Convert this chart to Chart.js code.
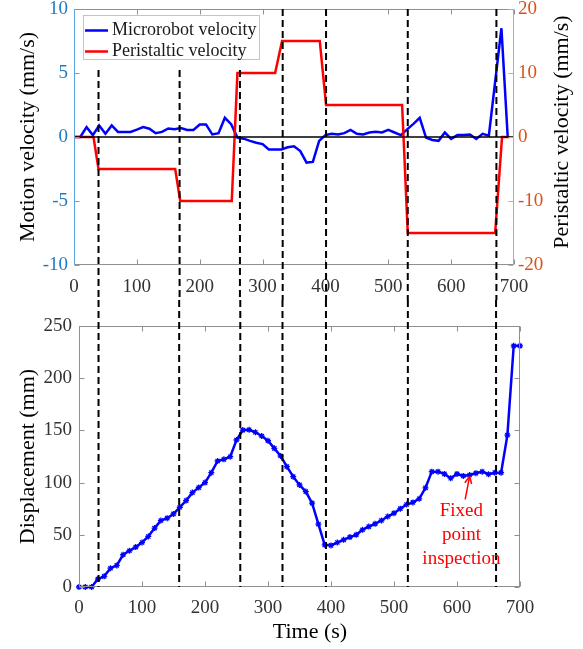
<!DOCTYPE html>
<html><head><meta charset="utf-8">
<script src="https://cdn.jsdelivr.net/npm/chart.js@4"></script>
<style>
html,body{margin:0;padding:0;background:#fff;}
#wrap{position:relative;width:583px;height:649px;overflow:hidden;}
canvas{position:absolute;left:0;}
#c1{top:0;} #c2{top:300px;}
</style></head><body>
<div id="wrap"><canvas id="c1" width="583" height="300"></canvas><canvas id="c2" width="583" height="349"></canvas></div>
<script>
// ---------- data ----------
const timeTicks = [0,100,200,300,400,500,600,700];
const velTicksLeft = [-10,-5,0,5,10];
const velTicksRight = [-20,-10,0,10,20];
const dispTicks = [0,50,100,150,200,250];

const velTimes = [0,10,20,30,40,50,60,70,80,90,100,110,120,130,140,150,160,170,180,190,200,210,220,230,240,250,260,270,280,290,300,310,320,330,340,350,360,370,380,390,400,410,420,430,440,450,460,470,480,490,500,510,520,530,540,550,560,570,580,590,600,610,620,630,640,650,660,680,690];
const robotVelocity = [0,0,0.77,0.15,0.9,0.26,0.9,0.4,0.4,0.4,
  0.57,0.77,0.65,0.3,0.4,0.67,0.6,0.7,0.55,0.55,
  0.98,0.98,0.2,0.3,1.5,1.0,-0.05,-0.13,-0.3,-0.45,
  -0.55,-0.97,-0.97,-0.97,-0.8,-0.72,-1.1,-2.0,-1.95,-0.3,
  0.15,0.25,0.2,0.3,0.55,0.25,0.2,0.35,0.4,0.35,
  0.55,0.35,0.15,0.6,1.03,1.5,-0.05,-0.23,-0.3,0.35,
  -0.15,0.15,0.15,0.2,-0.15,0.25,0.1,8.5,0];

const periTimes = [0,31,39,161,169,251,260,320,331,391,401,522,531,670,681,693];
const periVelocity = [0,0,-5,-5,-10,-10,10,10,15,15,5,5,-15,-15,0,0];

const zeroTimes = [0,700];
const zeroValues = [0,0];

const topSwitchTimes = [39,168,264,332,401,531,672];

const dispTimes = [0,10,20,30,40,50,60,70,80,90,100,110,120,130,140,150,160,170,180,190,200,210,220,230,240,250,260,270,280,290,300,310,320,330,340,350,360,370,380,390,400,410,420,430,440,450,460,470,480,490,500,510,520,530,540,550,560,570,580,590,600,610,620,630,640,650,660,670,680,690,700];
const displacement = [0,0,0,7.6,10.2,18,20.7,30.9,34.7,38.2,
  42.6,48.4,56.4,63.7,65.9,70,76.4,82.8,90.4,95.2,
  100,109.5,120.7,122.3,124.8,140.8,150.3,150.6,148.2,144.6,
  140.1,132.8,125.5,115.3,105.7,97.8,91.4,80.3,60.2,40.4,
  39.8,42.6,45.2,47.8,50,54.8,57.9,60.5,63.7,67.5,
  70.7,75,79,81,84.5,95,110.5,110.5,108.3,104.2,
  108.3,106.4,107.3,109,110.5,108,109.5,109.5,145.5,231,
  231];

const bottomSwitchTimes = [31,159,256,323,392,522,662];

const annotationLines = ['Fixed','point','inspection'];
const arrowTip = {x: 620, y: 106};
const arrowTail = {x: 613, y: 84};
const annotationAnchor = {x: 607, y: 73};

// ---------- style ----------
const FONT = "'Liberation Serif','Times New Roman',serif";
const BLUE = '#0000ff', RED = '#ff0000';
const LEFT_TXT = '#1f7ac2', LEFT_LINE = '#5aa3dc';
const RIGHT_TXT = '#d95319', RIGHT_LINE = '#eb9a78';
const FRAME = '#8f8f8f', TICKTXT = '#333333';

const pts = (xs, ys) => xs.map((x, i) => ({x, y: ys[i]}));
const fixedTicks = arr => s => { s.ticks = arr.map(v => ({value: v})); };
const fitW = w => s => { s.width = w; s.paddingTop = 0; s.paddingBottom = 0; s.paddingLeft = 0; s.paddingRight = 0; };
const fitH = h => s => { s.height = h; s.paddingTop = 0; s.paddingBottom = 0; s.paddingLeft = 0; s.paddingRight = 0; };

function line(ctx, x1, y1, x2, y2) { ctx.beginPath(); ctx.moveTo(x1, y1); ctx.lineTo(x2, y2); ctx.stroke(); }

function drawDashed(ctx, x, y1, y2) {
  ctx.save();
  ctx.strokeStyle = '#000'; ctx.lineWidth = 2; ctx.setLineDash([7, 4]);
  line(ctx, x, y1, x, y2);
  ctx.restore();
}

// ---------- top chart ----------
const LEG = {x1: 83, y1: 15, x2: 260, y2: 60};
const topPlugin = {
  id: 'topDecor',
  afterDraw(chart) {
    const {ctx, chartArea: a, scales} = chart;
    const L = Math.round(a.left) + 0.5, R = Math.round(a.right) - 0.5;
    const T = Math.round(a.top) + 0.5, B = Math.round(a.bottom) - 0.5;
    ctx.save();
    ctx.lineWidth = 1;
    ctx.strokeStyle = FRAME;
    line(ctx, L, T, R, T); line(ctx, L, B, R, B);
    timeTicks.forEach(v => { const x = Math.round(scales.x.getPixelForValue(v)) + 0.5; line(ctx, x, B, x, B - 5); line(ctx, x, T, x, T + 5); });
    ctx.strokeStyle = LEFT_LINE; line(ctx, L, T, L, B);
    velTicksLeft.forEach(v => { const y = Math.round(scales.yL.getPixelForValue(v)) + 0.5; line(ctx, L, y, L + 5, y); });
    ctx.strokeStyle = RIGHT_LINE; line(ctx, R, T, R, B);
    velTicksRight.forEach(v => { const y = Math.round(scales.yR.getPixelForValue(v)) + 0.5; line(ctx, R, y, R - 5, y); });
    // dashed switching lines
    topSwitchTimes.forEach(t => {
      const x = scales.x.getPixelForValue(t);
      const y1 = (x >= LEG.x1 && x <= LEG.x2 + 2) ? LEG.y2 + 10 : a.top;
      drawDashed(ctx, x, y1, chart.height);
    });
    // legend
    ctx.fillStyle = '#fff';
    ctx.fillRect(LEG.x1, LEG.y1, LEG.x2 - LEG.x1, LEG.y2 - LEG.y1);
    ctx.strokeStyle = '#c4c4c4'; ctx.lineWidth = 1;
    ctx.strokeRect(LEG.x1 + 0.5, LEG.y1 + 0.5, LEG.x2 - LEG.x1 - 1, LEG.y2 - LEG.y1 - 1);
    ctx.font = '18px ' + FONT; ctx.textBaseline = 'middle'; ctx.textAlign = 'left';
    [0, 1].forEach((di, i) => {
      const ds = chart.data.datasets[di];
      const y = 30.5 + i * 21;
      ctx.strokeStyle = ds.borderColor; ctx.lineWidth = 2.5;
      line(ctx, 85, y, 108, y);
      ctx.fillStyle = '#1a1a1a';
      ctx.fillText(ds.label, 112, y);
    });
    // right axis title
    ctx.save();
    ctx.translate(562, (a.top + a.bottom) / 2 - 5);
    ctx.rotate(-Math.PI / 2);
    ctx.font = '22px ' + FONT; ctx.fillStyle = '#000'; ctx.textAlign = 'center'; ctx.textBaseline = 'middle';
    ctx.fillText('Peristaltic velocity (mm/s)', 0, 0);
    ctx.restore();
    ctx.restore();
  }
};

new Chart(document.getElementById('c1'), {
  type: 'line',
  data: {
    datasets: [
      {label: 'Microrobot velocity', data: pts(velTimes, robotVelocity), yAxisID: 'yL', borderColor: BLUE, borderWidth: 2.5, pointRadius: 0, order: 2},
      {label: 'Peristaltic velocity', data: pts(periTimes, periVelocity), yAxisID: 'yR', borderColor: RED, borderWidth: 2.5, pointRadius: 0, order: 1},
      {label: 'zero', data: pts(zeroTimes, zeroValues), yAxisID: 'yL', borderColor: '#000', borderWidth: 1.6, pointRadius: 0, order: 0}
    ]
  },
  options: {
    responsive: false, animation: false, devicePixelRatio: 1, events: [],
    layout: {autoPadding: false, padding: {top: 9, left: 0, right: 0, bottom: 0}},
    plugins: {legend: {display: false}, tooltip: {enabled: false}},
    elements: {line: {tension: 0}},
    scales: {
      x: {type: 'linear', position: 'bottom', min: 0, max: 700,
        afterBuildTicks: fixedTicks(timeTicks),
        afterFit: fitH(35),
        grid: {display: false, drawTicks: false}, border: {display: false},
        ticks: {color: TICKTXT, padding: 11, font: {family: FONT, size: 19}}},
      yL: {type: 'linear', position: 'left', min: -10, max: 10,
        afterBuildTicks: fixedTicks(velTicksLeft),
        afterFit: fitW(74),
        grid: {display: false, drawTicks: false}, border: {display: false},
        ticks: {color: LEFT_TXT, padding: 6, font: {family: FONT, size: 19}},
        title: {display: true, text: 'Motion velocity (mm/s)', color: '#000', font: {family: FONT, size: 22}, padding: {top: 15, bottom: 0}}},
      yR: {type: 'linear', position: 'right', min: -20, max: 20,
        afterBuildTicks: fixedTicks(velTicksRight),
        afterFit: fitW(69),
        grid: {display: false, drawTicks: false}, border: {display: false},
        ticks: {color: RIGHT_TXT, padding: 4, font: {family: FONT, size: 19}}}
    }
  },
  plugins: [topPlugin]
});

// ---------- bottom chart ----------
const bottomPlugin = {
  id: 'bottomDecor',
  afterDraw(chart) {
    const {ctx, chartArea: a, scales} = chart;
    const L = Math.round(a.left) + 0.5, R = Math.round(a.right) - 0.5;
    const T = Math.round(a.top) + 0.5, B = Math.round(a.bottom) - 0.5;
    ctx.save();
    ctx.lineWidth = 1; ctx.strokeStyle = FRAME;
    ctx.strokeRect(L, T, R - L, B - T);
    timeTicks.forEach(v => { const x = Math.round(scales.x.getPixelForValue(v)) + 0.5; line(ctx, x, B, x, B - 5); line(ctx, x, T, x, T + 5); });
    dispTicks.forEach(v => { const y = Math.round(scales.y.getPixelForValue(v)) + 0.5; line(ctx, L, y, L + 5, y); line(ctx, R, y, R - 5, y); });
    bottomSwitchTimes.forEach(t => {
      const x = scales.x.getPixelForValue(t);
      drawDashed(ctx, x, 0, a.bottom);
    });
    // annotation
    const tipX = scales.x.getPixelForValue(arrowTip.x), tipY = scales.y.getPixelForValue(arrowTip.y);
    const tailX = scales.x.getPixelForValue(arrowTail.x), tailY = scales.y.getPixelForValue(arrowTail.y);
    ctx.strokeStyle = RED; ctx.lineWidth = 1.5;
    line(ctx, tailX, tailY, tipX, tipY);
    const ang = Math.atan2(tipY - tailY, tipX - tailX);
    [0.45, -0.45].forEach(d => {
      line(ctx, tipX, tipY, tipX - 8 * Math.cos(ang + d), tipY - 8 * Math.sin(ang + d));
    });
    const ax = scales.x.getPixelForValue(annotationAnchor.x), ay = scales.y.getPixelForValue(annotationAnchor.y);
    ctx.fillStyle = RED; ctx.font = '19px ' + FONT; ctx.textAlign = 'center'; ctx.textBaseline = 'middle';
    annotationLines.forEach((s, i) => ctx.fillText(s, ax, ay + i * 24));
    // x title
    ctx.fillStyle = '#000'; ctx.font = '22px ' + FONT;
    ctx.fillText('Time (s)', 310, 332);
    ctx.restore();
  }
};

new Chart(document.getElementById('c2'), {
  type: 'line',
  data: {
    datasets: [
      {label: 'Displacement', data: pts(dispTimes, displacement), borderColor: BLUE, backgroundColor: BLUE, borderWidth: 2.5,
        pointStyle: 'star', pointRadius: 3, pointBorderWidth: 1.3, pointBorderColor: BLUE, clip: 6}
    ]
  },
  options: {
    responsive: false, animation: false, devicePixelRatio: 1, events: [],
    layout: {autoPadding: false, padding: {top: 26, left: 0, right: 63, bottom: 0}},
    plugins: {legend: {display: false}, tooltip: {enabled: false}},
    elements: {line: {tension: 0}},
    scales: {
      x: {type: 'linear', position: 'bottom', min: 0, max: 700,
        afterBuildTicks: fixedTicks(timeTicks),
        afterFit: fitH(62),
        grid: {display: false, drawTicks: false}, border: {display: false},
        ticks: {color: TICKTXT, padding: 10, font: {family: FONT, size: 19}}},
      y: {type: 'linear', position: 'left', min: 0, max: 250,
        afterBuildTicks: fixedTicks(dispTicks),
        afterFit: fitW(79),
        grid: {display: false, drawTicks: false}, border: {display: false},
        ticks: {color: TICKTXT, padding: 7, font: {family: FONT, size: 19}},
        title: {display: true, text: 'Displacement (mm)', color: '#000', font: {family: FONT, size: 22}, padding: {top: 15, bottom: 0}}}
    }
  },
  plugins: [bottomPlugin]
});
</script>
</body></html>
